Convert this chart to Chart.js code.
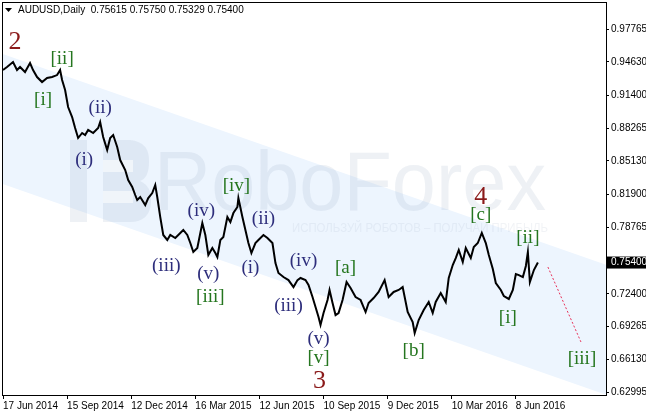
<!DOCTYPE html>
<html>
<head>
<meta charset="utf-8">
<script src="https://cdn.jsdelivr.net/npm/chart.js@4.4.1/dist/chart.umd.min.js"></script>
<style>
   body { margin: 0; background: #fff; }
   canvas { display: block; }
</style>
</head>
<body>
<canvas id="chart" width="646" height="414"></canvas>
<script>
let symbol = 'AUDUSD,Daily'
let lastBar = [0.75615, 0.75750, 0.75329, 0.75400]

let priceBars = [0, 4, 10, 14, 17, 22, 27, 30, 34, 39, 44, 49, 54, 57, 59, 62, 65, 69, 72, 75, 79, 82, 85, 90, 95, 97, 100, 104, 107, 110, 114, 117, 122, 125, 129, 132, 134, 137, 142, 145, 149, 152, 154, 157, 160, 164, 167, 172, 177, 180, 184, 187, 190, 194, 197, 199, 202, 205, 209, 212, 214, 217, 220, 224, 227, 230, 234, 235, 239, 242, 245, 248, 252, 255, 260, 264, 269, 272, 275, 280, 285, 290, 294, 297, 302, 305, 309, 312, 315, 317, 320, 324, 326, 329, 332, 335, 339, 343, 347, 352, 357, 362, 365, 370, 375, 381, 385, 390, 395, 399, 404, 409, 411, 415, 420, 425, 429, 432, 437, 442, 445, 449, 452, 455, 459, 462, 467, 470, 474, 478, 482, 485, 489, 492, 497, 500, 505, 509, 512, 515, 519, 522, 524, 526, 530, 534]
let priceValues = [0.9384, 0.9413, 0.9461, 0.9384, 0.9413, 0.9365, 0.9451, 0.9384, 0.9317, 0.9269, 0.9308, 0.9317, 0.9336, 0.9384, 0.9289, 0.9193, 0.9030, 0.8934, 0.8829, 0.8733, 0.8781, 0.8762, 0.8810, 0.8781, 0.8829, 0.8886, 0.8742, 0.8618, 0.8733, 0.8762, 0.8647, 0.8522, 0.8426, 0.8330, 0.8264, 0.8187, 0.8139, 0.8168, 0.8091, 0.8158, 0.8206, 0.8283, 0.8168, 0.7976, 0.7804, 0.7756, 0.7804, 0.7775, 0.7823, 0.7852, 0.7804, 0.7727, 0.7641, 0.7679, 0.7823, 0.7919, 0.7804, 0.7612, 0.7679, 0.7631, 0.7593, 0.7756, 0.7785, 0.7976, 0.7928, 0.8014, 0.8072, 0.8158, 0.7976, 0.7852, 0.7727, 0.7631, 0.7727, 0.7756, 0.7804, 0.7775, 0.7727, 0.7535, 0.7440, 0.7401, 0.7372, 0.7305, 0.7372, 0.7392, 0.7372, 0.7325, 0.7210, 0.7114, 0.7018, 0.6942, 0.7056, 0.7181, 0.7277, 0.7152, 0.7037, 0.7056, 0.7181, 0.7353, 0.7296, 0.7210, 0.7181, 0.7066, 0.7152, 0.7200, 0.7258, 0.7372, 0.7210, 0.7258, 0.7277, 0.7305, 0.7066, 0.6970, 0.6865, 0.6989, 0.7085, 0.7162, 0.7056, 0.7162, 0.7248, 0.7162, 0.7392, 0.7516, 0.7583, 0.7660, 0.7545, 0.7679, 0.7583, 0.7689, 0.7727, 0.7823, 0.7727, 0.7612, 0.7478, 0.7344, 0.7277, 0.7219, 0.7191, 0.7277, 0.7430, 0.7420, 0.7401, 0.7507, 0.7641, 0.7353, 0.7468, 0.7540]

let dateTickBars = [0, 64, 128, 192, 256, 320, 384, 448, 512]
let dateTickLabels = ['17 Jun 2014', '15 Sep 2014', '12 Dec 2014', '16 Mar 2015', '12 Jun 2015', '10 Sep 2015', '9 Dec 2015', '10 Mar 2016', '8 Jun 2016']
let priceTicks = [0.62995, 0.66130, 0.69265, 0.72400, 0.78765, 0.81900, 0.85130, 0.88265, 0.91400, 0.94630, 0.97765]

let channelBars = [-1, 602]
let channelUpper = [0.9541, 0.7518]
let channelLower = [0.8295, 0.6273]

let forecastBars = [544, 577]
let forecastValues = [0.7497, 0.6779]

let waveText = ['2', '[ii]', '[i]', '(ii)', '(i)', '[iv]', '(iv)', '(ii)', '(iii)', '(v)', '(i)', '[iii]', '(iv)', '[a]', '(iii)', '(v)', '[v]', '3', '[b]', '4', '[c]', '[ii]', '[i]', '[iii]']
let waveBar = [12, 59, 40, 97, 81, 233, 198, 260, 163, 205, 247, 207, 300, 342, 285, 315, 315, 316, 410, 477, 477, 524, 504, 578]
let wavePrice = [0.9652, 0.9490, 0.9097, 0.9020, 0.8522, 0.8273, 0.8033, 0.7957, 0.7507, 0.7430, 0.7488, 0.7210, 0.7555, 0.7488, 0.7124, 0.6807, 0.6625, 0.6405, 0.6692, 0.8168, 0.7995, 0.7775, 0.7008, 0.6616]

let waveColor = (t) => {
   if (/^\d$/.test(t)) return '#8b1a1a'
   if (t[0] == '[') return '#25761f'
   return '#2e2e7c'
}

let xy = (xs, ys) => xs.map((x, i) => ({ x: x, y: ys[i] }))

let frame = {
   id: 'frame',
   beforeDatasetDraw(chart, args) {
      if (args.index != 0) return
      // watermark sits on top of the channel but under the price line
      let ctx = chart.ctx
      let a = chart.chartArea
      let ink = 'rgba(140,160,185,0.15)'
      ctx.save()
      ctx.fillStyle = ink
      ctx.fillRect(a.left + 68, a.top + 138, 17, 82)
      ctx.beginPath()
      ctx.moveTo(a.left + 101, a.top + 138)
      ctx.lineTo(a.left + 128, a.top + 138)
      ctx.quadraticCurveTo(a.left + 148, a.top + 140, a.left + 147, a.top + 160)
      ctx.quadraticCurveTo(a.left + 147, a.top + 176, a.left + 138, a.top + 179)
      ctx.quadraticCurveTo(a.left + 150, a.top + 184, a.left + 149, a.top + 200)
      ctx.quadraticCurveTo(a.left + 148, a.top + 220, a.left + 128, a.top + 220)
      ctx.lineTo(a.left + 101, a.top + 220)
      ctx.closePath()
      ctx.fill()
      ctx.fillStyle = '#fff'
      ctx.globalAlpha = 0.55
      ctx.fillRect(a.left + 101, a.top + 158, 30, 12)
      ctx.fillRect(a.left + 101, a.top + 189, 30, 12)
      ctx.globalAlpha = 1
      ctx.fillStyle = ink
      ctx.font = '84px "Liberation Sans"'
      ctx.textBaseline = 'alphabetic'
      ctx.fillText('RoboForex', a.left + 152, a.top + 208, 392)
      ctx.font = '13px "Liberation Sans"'
      ctx.fillStyle = 'rgba(140,160,185,0.12)'
      ctx.fillText('ИСПОЛЬЗУЙ РОБОТОВ – ПОЛУЧАЙ ПРИБЫЛЬ', a.left + 290, a.top + 230, 256)
      ctx.restore()
   },
   afterDatasetsDraw(chart) {
      let ctx = chart.ctx
      let a = chart.chartArea
      let xs = chart.scales.x
      let ys = chart.scales.y
      ctx.save()
      ctx.textAlign = 'center'
      ctx.textBaseline = 'middle'
      waveText.forEach((t, i) => {
         let big = /^\d$/.test(t)
         ctx.font = (big ? '26px' : '19px') + ' "Liberation Serif"'
         ctx.fillStyle = waveColor(t)
         ctx.fillText(t, xs.getPixelForValue(waveBar[i]), ys.getPixelForValue(wavePrice[i]))
      })
      // frame
      ctx.strokeStyle = '#000'
      ctx.lineWidth = 1
      ctx.strokeRect(a.left + 0.5, a.top + 0.5, a.right - a.left, a.bottom - a.top)
      // header
      ctx.fillStyle = '#000'
      ctx.beginPath()
      ctx.moveTo(a.left + 3, a.top + 6)
      ctx.lineTo(a.left + 10, a.top + 6)
      ctx.lineTo(a.left + 6.5, a.top + 10)
      ctx.closePath()
      ctx.fill()
      ctx.font = '10px "Liberation Sans"'
      ctx.textAlign = 'left'
      ctx.fillText(symbol + '  ' + lastBar.map(v => v.toFixed(5)).join(' '), a.left + 16, a.top + 8)
      // current price marker
      let py = ys.getPixelForValue(lastBar[3])
      ctx.fillRect(a.right + 1, py - 6, chart.width - a.right, 12)
      ctx.fillStyle = '#fff'
      ctx.fillText(lastBar[3].toFixed(5), a.right + 5, py)
      ctx.restore()
   }
}

new Chart(document.getElementById('chart'), {
   type: 'line',
   data: {
      datasets: [
         {
            data: xy(priceBars, priceValues),
            borderColor: '#000',
            borderWidth: 2,
            pointRadius: 0,
            tension: 0,
            order: 0
         },
         {
            data: xy(forecastBars, forecastValues),
            borderColor: '#e8335a',
            borderWidth: 1,
            borderDash: [2, 2],
            pointRadius: 0,
            order: 1
         },
         {
            data: xy(channelBars, channelUpper),
            borderWidth: 0,
            pointRadius: 0,
            fill: '+1',
            backgroundColor: '#edf5fe',
            order: 5
         },
         {
            data: xy(channelBars, channelLower),
            borderWidth: 0,
            pointRadius: 0,
            order: 6
         }
      ]
   },
   options: {
      responsive: false,
      animation: false,
      events: [],
      layout: { padding: { left: 2, top: 2, right: 0, bottom: 0 } },
      plugins: { legend: { display: false }, tooltip: { enabled: false } },
      scales: {
         x: {
            type: 'linear',
            min: -1,
            max: 602,
            afterBuildTicks: (s) => { s.ticks = dateTickBars.map(v => ({ value: v })) },
            afterFit: (s) => { s.height = 19; s.paddingLeft = 0; s.paddingRight = 0 },
            ticks: {
               callback: (v) => dateTickLabels[dateTickBars.indexOf(v)],
               align: 'start',
               maxRotation: 0,
               autoSkip: false,
               padding: 1,
               color: '#000',
               font: { family: 'Liberation Sans', size: 10 }
            },
            grid: { drawOnChartArea: false, tickLength: 4, color: '#000' },
            border: { color: '#000' }
         },
         y: {
            position: 'right',
            min: 0.6271,
            max: 1.0036,
            afterBuildTicks: (s) => { s.ticks = priceTicks.map(v => ({ value: v })) },
            afterFit: (s) => { s.width = 40; s.paddingTop = 0; s.paddingBottom = 0 },
            ticks: {
               callback: (v) => v.toFixed(5),
               padding: 2,
               color: '#000',
               font: { family: 'Liberation Sans', size: 10 }
            },
            grid: { drawOnChartArea: false, tickLength: 3, color: '#000' },
            border: { color: '#000' }
         }
      }
   },
   plugins: [frame]
})
</script>
</body>
</html>
